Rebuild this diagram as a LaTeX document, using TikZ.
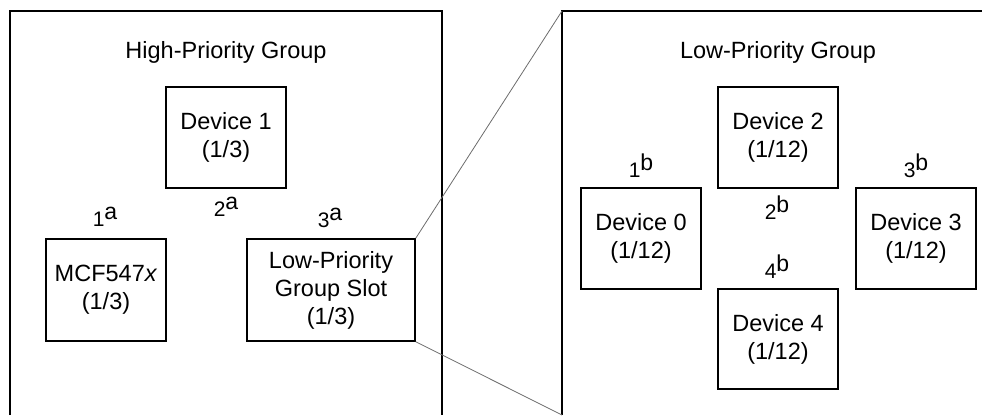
\documentclass[tikz,border=0pt]{standalone}
\usepackage{fontspec}
\setmainfont{Liberation Sans}
\newcommand\ordsup[1]{\raisebox{7pt}{\fontsize{23}{24}\selectfont #1}}
\begin{document}
\begin{tikzpicture}[x=1pt,y=-1pt,
  every node/.style={font=\fontsize{23.5}{28}\selectfont, inner sep=0pt},
  dev/.style={draw, line width=1.4pt, align=center, minimum width=120pt, minimum height=101pt},
  frame/.style={line width=1.4pt},
  zoomline/.style={draw=gray!85!black, line width=0.8pt},
  lbl/.style={font=\fontsize{21}{24}\selectfont}]
\useasboundingbox (0,0) rectangle (982,415);
% frames
\coordinate (hl) at (10,415);
\coordinate (htl) at (10,11);
\coordinate (htr) at (442,11);
\coordinate (hr) at (442,415);
\draw[frame] (hl) -- (htl) -- (htr) -- (hr);
\coordinate (lbl) at (562,415);
\coordinate (ltl) at (562,11);
\coordinate (ltr) at (982,11);
\draw[frame] (lbl) -- (ltl) -- (ltr);
% titles
\node (ht) at (226,52) {High-Priority Group};
\node (lt) at (778,52) {Low-Priority Group};
% high priority boxes
\node[dev] (d1) at (226,137.5) {Device 1\\(1/3)};
\node[dev, minimum height=102pt] (mcf) at (106,290) {MCF547\textit{x}\\(1/3)};
\node[dev, minimum width=168pt, minimum height=102pt] (slot) at (331,290) {Low-Priority\\Group Slot\\(1/3)};
% low priority boxes
\node[dev] (d2) at (778,137.5) {Device 2\\(1/12)};
\node[dev] (d0) at (641,238.5) {Device 0\\(1/12)};
\node[dev] (d3) at (916,238.5) {Device 3\\(1/12)};
\node[dev, minimum height=100pt] (d4) at (778,339) {Device 4\\(1/12)};
% order labels
\node[lbl] (a1) at (105,217) {1\ordsup{a}};
\node[lbl] (a2) at (226,207) {2\ordsup{a}};
\node[lbl] (a3) at (330,218) {3\ordsup{a}};
\node[lbl] (b1) at (641,166) {1\ordsup{b}};
\node[lbl] (b2) at (777,208) {2\ordsup{b}};
\node[lbl] (b3) at (916,166) {3\ordsup{b}};
\node[lbl] (b4) at (777,267) {4\ordsup{b}};
% zoom lines
\draw[zoomline] (slot.north east) -- (ltl);
\draw[zoomline] (slot.south east) -- (lbl);
\end{tikzpicture}
\end{document}
